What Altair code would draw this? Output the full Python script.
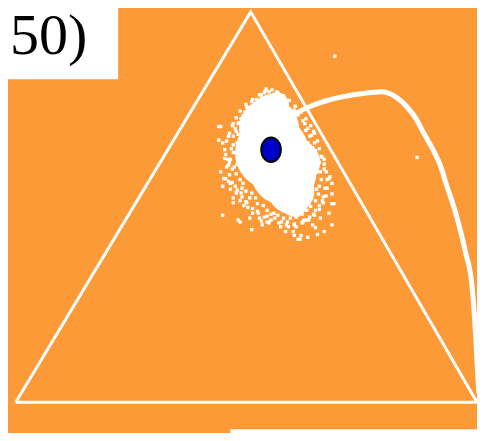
import altair as alt
import pandas as pd

W, H = 485, 441          # picture size
PW, PH = W - 16, H - 16  # plot size inside the 8px page margins
BG = "#FD9A38"

# Triangle outline (closed), in picture units
tri_x = [8, 251, 485, 8]
tri_y = [409, 4, 409, 409]

# Thick trajectory curve
curve_x = [280, 290, 300, 313, 330, 347, 365, 387, 395, 402, 413, 422, 430, 440, 447, 453, 463, 473, 480, 483, 485, 487]
curve_y = [122, 114, 108, 102, 96, 92, 89, 87, 89, 93, 103, 115, 130, 148, 163, 182, 213, 253, 290, 330, 367, 400]

# Dense core of the white cloud (centres and diameters)
core_x = [272, 270, 273, 285, 293, 296, 262, 300, 278]
core_y = [106, 125, 150, 170, 190, 203, 150, 160, 100]
core_d = [32, 60, 74, 66, 46, 26, 44, 44, 24]

# Scattered specks around the cloud
speck_x = [270, 265, 275, 257, 252, 247, 243, 238, 220, 235, 228, 222, 233, 225, 230,
           228, 237, 223, 228, 222, 230, 235, 242, 233, 233, 240, 250, 248, 253, 222, 238,
           260, 268, 263, 252, 275,
           327, 333, 335, 328, 335, 325, 335, 318, 332, 312, 323, 305, 335, 298, 315, 290,
           282, 295, 318, 327, 302, 310, 320, 287,
           278, 283, 288, 290, 307, 308, 312, 310, 315, 318, 325, 322,
           240, 270, 300, 337, 332, 327, 225, 220, 218, 218, 233, 227,
           338, 423,
           262, 280, 286, 256, 249, 244, 316, 320, 314, 306, 300, 276, 268, 258, 246, 241,
           258, 262, 255, 249, 245, 241, 244, 239, 236, 233, 238, 231, 233, 229, 234, 236,
           240, 243, 246, 252, 256, 258, 264, 268, 272, 279, 285, 292, 298, 304, 309, 313,
           318, 321, 322, 324, 323, 321, 318, 317, 314, 310, 305, 300, 296, 288, 282, 276,
           267, 273, 250, 237, 232, 230, 236, 244, 250, 262, 283, 296, 306, 316, 322, 326,
           319, 315, 309, 303, 296, 289,
           266, 260, 253, 246, 240, 236, 232, 229, 226, 224, 224, 226, 229, 232, 237, 242,
           247, 253, 259, 265, 272, 280, 288, 296, 304, 311, 317, 322, 326, 329, 330, 330,
           329, 327, 324, 322, 320, 317, 313, 308, 303, 297, 291, 285, 279]
speck_y = [87, 88, 92, 95, 97, 103, 112, 120, 123, 125, 133, 140, 142, 152, 157,
           163, 162, 177, 180, 185, 188, 185, 187, 197, 202, 200, 197, 207, 213, 215, 220,
           218, 222, 225, 230, 213,
           167, 175, 182, 187, 193, 200, 203, 210, 213, 217, 218, 222, 225, 227, 225, 227,
           227, 232, 228, 232, 240, 238, 235, 232,
           87, 93, 98, 105, 120, 127, 133, 140, 145, 152, 155, 160,
           222, 223, 240, 203, 177, 157, 177, 170, 137, 123, 120, 157,
           50, 155,
           90, 91, 100, 99, 108, 116, 128, 170, 196, 208, 215, 218, 216, 211, 201, 192,
           96, 93, 100, 104, 108, 115, 113, 119, 128, 133, 131, 146, 150, 160, 165, 172,
           178, 182, 190, 192, 197, 203, 205, 210, 214, 215, 218, 218, 217, 214, 210, 206,
           200, 193, 185, 178, 170, 162, 148, 140, 132, 125, 117, 111, 106, 98, 92, 90,
           84, 85, 110, 140, 167, 182, 192, 205, 218, 221, 222, 224, 220, 214, 205, 196,
           188, 180, 220, 236, 236, 222,
           86, 90, 95, 100, 107, 114, 122, 130, 138, 147, 156, 165, 173, 181, 189, 196,
           202, 208, 213, 217, 220, 223, 225, 225, 223, 220, 215, 209, 202, 195, 187, 178,
           170, 162, 154, 146, 138, 130, 122, 115, 108, 102, 96, 91, 88]

dot_x = [272]
dot_y = [147]

label_text = ["50)"]
label_pos = {"x": [2], "y": [48]}
label_box = {"x": [0], "x2": [114], "y": [0], "y2": [74]}
bottom_box = {"x": [230], "x2": [485], "y": [437], "y2": [441]}

xs = alt.Scale(domain=[0, W], nice=False, zero=False)
ys = alt.Scale(domain=[0, H], nice=False, zero=False, reverse=True)
X = alt.X("x:Q", scale=xs, axis=None)
Y = alt.Y("y:Q", scale=ys, axis=None)

tri_df = pd.DataFrame({"x": tri_x, "y": tri_y, "i": range(len(tri_x))})
curve_df = pd.DataFrame({"x": curve_x, "y": curve_y, "i": range(len(curve_x))})
core_df = pd.DataFrame({"x": core_x, "y": core_y, "s": [d * d for d in core_d]})
speck_df = pd.DataFrame({"x": speck_x, "y": speck_y})
dot_df = pd.DataFrame({"x": dot_x, "y": dot_y})
lab_df = pd.DataFrame({"x": label_pos["x"], "y": label_pos["y"], "t": label_text})
box_df = pd.DataFrame(label_box)
bbox_df = pd.DataFrame(bottom_box)

tri = alt.Chart(tri_df).mark_line(color="white", strokeWidth=3).encode(x=X, y=Y, order="i:Q")
curve = alt.Chart(curve_df).mark_line(color="white", strokeWidth=5, interpolate="monotone").encode(
    x=X, y=Y, order="i:Q")
core = alt.Chart(core_df).mark_circle(color="white", opacity=1).encode(
    x=X, y=Y, size=alt.Size("s:Q", scale=None, legend=None))
specks = alt.Chart(speck_df).mark_square(color="white", opacity=1, size=11).encode(x=X, y=Y)
ellipse = "M-0.8,0 A0.8,1 0 1,0 0.8,0 A0.8,1 0 1,0 -0.8,0 Z"
dot = alt.Chart(dot_df).mark_point(shape=ellipse, size=600, filled=True, fill="#0000C8",
                                   stroke="black", strokeWidth=2, opacity=1).encode(x=X, y=Y)
box = alt.Chart(box_df).mark_rect(color="white").encode(
    x=X, x2="x2:Q", y=Y, y2="y2:Q")
bbox = alt.Chart(bbox_df).mark_rect(color="white").encode(
    x=X, x2="x2:Q", y=Y, y2="y2:Q")
lab = alt.Chart(lab_df).mark_text(align="left", baseline="alphabetic",
                                  font="Liberation Serif, Times New Roman, serif",
                                  fontSize=58, color="black").encode(x=X, y=Y, text="t:N")

chart = alt.layer(tri, curve, core, specks, dot, box, bbox, lab).properties(
    width=PW, height=PH, padding=0, autosize=alt.AutoSizeParams(type="none"),
    background=BG
).configure_view(stroke=None)

chart.save("out.html", embed_options={"renderer": "svg", "actions": False})
